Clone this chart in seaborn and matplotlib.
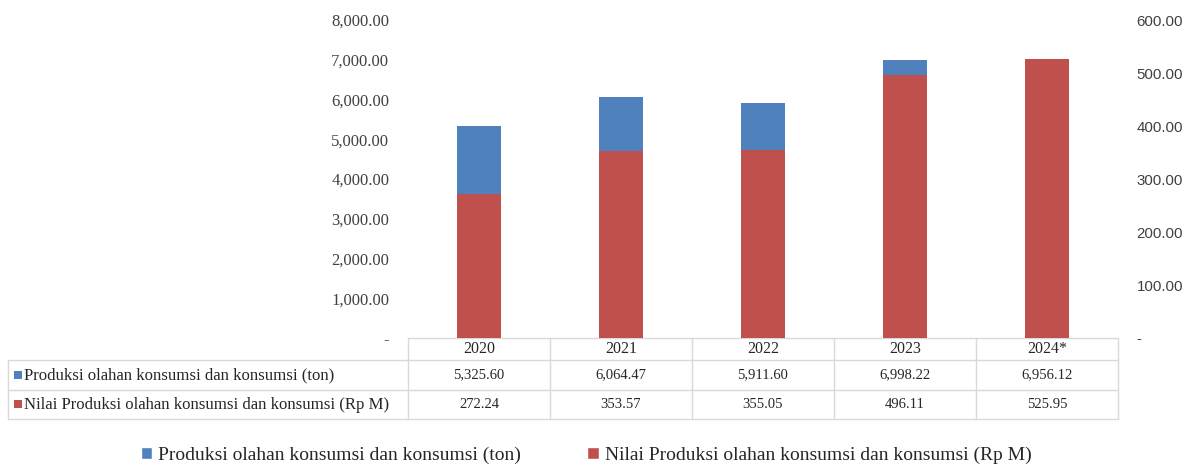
import matplotlib
matplotlib.use("Agg")
import matplotlib.pyplot as plt
import seaborn as sns
import pandas as pd
from matplotlib.patches import Rectangle, Patch
from matplotlib.lines import Line2D

years = ["2020", "2021", "2022", "2023", "2024*"]
produksi_ton = [5325.60, 6064.47, 5911.60, 6998.22, 6956.12]
nilai_rpm = [272.24, 353.57, 355.05, 496.11, 525.95]
label_ton = "Produksi olahan konsumsi dan konsumsi (ton)"
label_rpm = "Nilai Produksi olahan konsumsi dan konsumsi (Rp M)"
left_ticks = [0, 1000, 2000, 3000, 4000, 5000, 6000, 7000, 8000]
right_ticks = [0, 100, 200, 300, 400, 500, 600]

BLUE = "#4F81BD"
RED = "#C0504D"
GRID = "#d9d9d9"
TXT = "#404040"

sns.set_theme(style="white")
plt.rcParams["font.family"] = ["Liberation Serif", "DejaVu Serif"]

W, H = 1194, 465
fig = plt.figure(figsize=(W / 100, H / 100), dpi=100)
ax_l, ax_r, ax_t, ax_b = 408, 1118, 20, 338
ax = fig.add_axes([ax_l / W, 1 - ax_b / H, (ax_r - ax_l) / W, (ax_b - ax_t) / H])

df = pd.DataFrame({"year": years, "ton": produksi_ton, "rpm": nilai_rpm})
sns.barplot(data=df, x="year", y="ton", color=BLUE, saturation=1, width=0.31,
            linewidth=0, edgecolor="none", ax=ax)
ax2 = ax.twinx()
sns.barplot(data=df, x="year", y="rpm", color=RED, saturation=1, width=0.31,
            linewidth=0, edgecolor="none", ax=ax2)

ax.set_ylim(0, 8000)
ax2.set_ylim(0, 600)
ax.set_xlim(-0.5, 4.5)
ax.set_yticks(left_ticks)
ax.set_yticklabels(["-" if v == 0 else f"{v:,.2f}" for v in left_ticks])
ax2.set_yticks(right_ticks)
ax2.set_yticklabels(["-" if v == 0 else f"{v:,.2f}" for v in right_ticks])
for a in (ax, ax2):
    a.set_xlabel("")
    a.set_ylabel("")
    a.set_xticks([])
    for s in a.spines.values():
        s.set_visible(False)
    a.grid(False)
ax.tick_params(axis="y", length=0, pad=13.5, labelsize=12, labelcolor=TXT)
ax2.tick_params(axis="y", length=0, pad=13.5, labelsize=10.8, labelcolor=TXT)
for t in ax2.get_yticklabels():
    t.set_fontfamily(["Liberation Sans", "DejaVu Sans"])

# data table below
axh = ax_b - ax_t
def ya(py):
    return (ax_b - py) / axh
colw = (ax_r - ax_l) / 5
def xa(px):
    return (px - ax_l) / (ax_r - ax_l)

lkw = dict(color=GRID, lw=1, transform=ax.transAxes, clip_on=False)
row_lines = [338, 360, 390, 419]
for i, py in enumerate(row_lines):
    x0 = xa(ax_l) if i == 0 else xa(8)
    ax.add_line(Line2D([x0, 1], [ya(py), ya(py)], **lkw))
for k in range(6):
    px = ax_l + k * colw
    ax.add_line(Line2D([xa(px), xa(px)], [ya(338), ya(419)], **lkw))
ax.add_line(Line2D([xa(8), xa(8)], [ya(360), ya(419)], **lkw))

tkw = dict(transform=ax.transAxes, color="#262626", clip_on=False, va="center")
for i, y in enumerate(years):
    cx = (i + 0.5) / 5
    ax.text(cx, ya(349), y, ha="center", fontsize=11.5, **tkw)
    ax.text(cx, ya(375), f"{produksi_ton[i]:,.2f}", ha="center", fontsize=10.5, **tkw)
    ax.text(cx, ya(404.5), f"{nilai_rpm[i]:,.2f}", ha="center", fontsize=10.5, **tkw)

for py, lab, col in [(375, label_ton, BLUE), (404.5, label_rpm, RED)]:
    ax.add_patch(Rectangle((xa(14), ya(py + 3.5)), 8 / (ax_r - ax_l), 8 / axh,
                           facecolor=col, edgecolor="none", transform=ax.transAxes, clip_on=False))
    ax.text(xa(24), ya(py), lab, ha="left", fontsize=12.1, **tkw)

handles = [Patch(facecolor=BLUE, label=label_ton), Patch(facecolor=RED, label=label_rpm)]
fig.legend(handles=handles, loc="center", bbox_to_anchor=(586 / W, 1 - 455 / H), ncol=2,
           frameon=False, fontsize=14, handlelength=0.6, handleheight=0.6,
           handletextpad=0.3, columnspacing=3.4, labelcolor="#262626")

fig.savefig("out.png", dpi=100)
